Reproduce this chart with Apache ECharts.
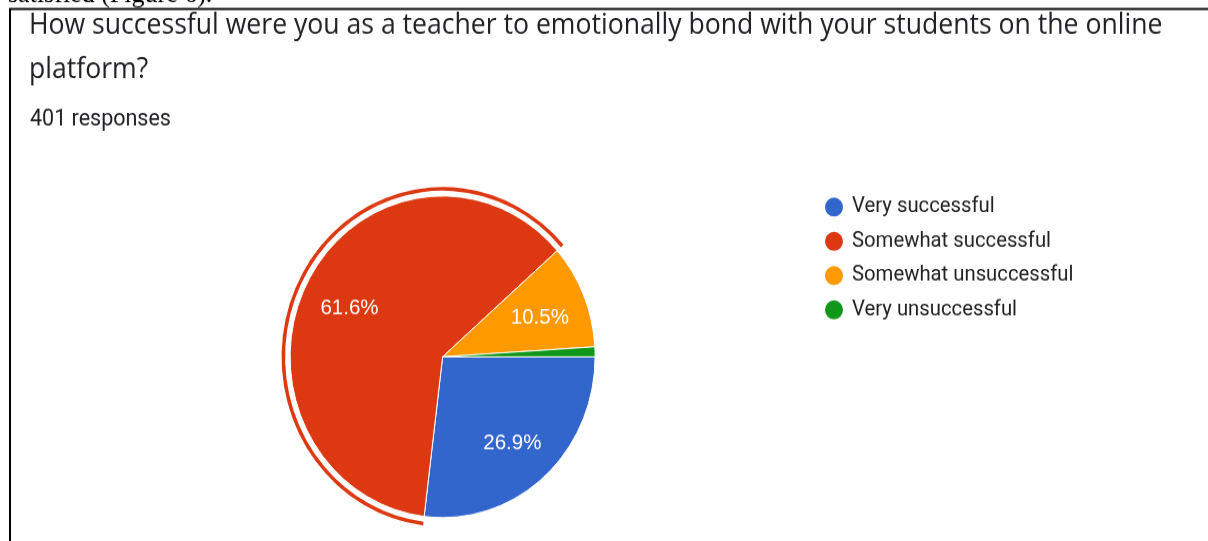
<!DOCTYPE html>
<html>
<head>
<meta charset="utf-8">
<script src="https://cdn.jsdelivr.net/npm/echarts@6/dist/echarts.min.js"></script>
<style>
  html { margin: 0; padding: 0; overflow: hidden; background: #ffffff; }
  body { margin: 0; padding: 0; width: 1208px; height: 541px; background: #ffffff; }
  #stage { width: 1208px; height: 513px; transform-origin: 0 0; }
</style>
</head>
<body>
<div id="stage"></div>
<script>
// Survey answers (401 responses)
const categories = ['Very successful', 'Somewhat successful', 'Somewhat unsuccessful', 'Very unsuccessful'];
const responses = [108, 247, 42, 4];
const palette = ['#3366cc', '#dc3912', '#ff9900', '#109618'];
const highlighted = 'Somewhat successful';
const questionLines = ['How successful were you as a teacher to emotionally bond with your students on the online', 'platform?'];
const responseNote = '401 responses';
const captionAbove = 'satisfied (Figure 6).';

// the canvas is drawn slightly shorter and stretched vertically
const SY = 541 / 513;
const stage = document.getElementById('stage');
stage.style.transform = 'scaleY(' + SY + ')';

const cx = 442.6, cy = 356.8 / SY;
const R = 152.5;

const chart = echarts.init(stage, null, { renderer: 'canvas' });

const baseData = categories.map((name, i) => ({
  name: name,
  value: responses[i],
  itemStyle: { color: palette[i] }
}));

chart.setOption({
  animation: false,
  title: [
    {
      text: questionLines.join('\n'),
      left: 29,
      top: 3.8,
      padding: 0,
      textStyle: { fontFamily: 'Open Sans', fontSize: 26.6, fontWeight: 'normal', color: '#202124', lineHeight: 41.7 }
    },
    {
      text: responseNote,
      left: 30,
      top: 101.5,
      padding: 0,
      textStyle: { fontFamily: 'Roboto', fontSize: 21.5, fontWeight: 'normal', color: '#202124', lineHeight: 24 }
    }
  ],
  legend: {
    orient: 'vertical',
    left: 823,
    top: 185.3,
    padding: 0,
    icon: 'circle',
    itemWidth: 20,
    itemHeight: 20,
    itemGap: 10.5,
    selectedMode: false,
    data: categories.map((name, i) => ({ name: name, itemStyle: { color: palette[i] } })),
    textStyle: { fontFamily: 'Roboto', fontSize: 20.3, color: '#222222', padding: [0, 0, 0, 3] }
  },
  graphic: [
    {
      type: 'polyline',
      silent: true,
      shape: { points: [[10, 520], [10, 9 / SY], [1208, 9 / SY]] },
      style: { stroke: '#000000', lineWidth: 2, fill: null }
    },
    {
      type: 'text',
      silent: true,
      x: 8,
      y: -4.5,
      style: {
        text: captionAbove,
        font: '26px "Liberation Serif", "Times New Roman", serif',
        fill: '#000000',
        textVerticalAlign: 'middle'
      }
    }
  ],
  series: [
    {
      name: 'slices',
      type: 'pie',
      center: [cx, cy],
      radius: [0, R],
      startAngle: 0,
      clockwise: true,
      silent: true,
      label: { show: false },
      labelLine: { show: false },
      itemStyle: { borderColor: '#ffffff', borderWidth: 1 },
      emphasis: { disabled: true },
      data: baseData
    },
    {
      name: 'highlight',
      type: 'pie',
      center: [cx, cy],
      radius: [157.5, 161],
      startAngle: 0,
      clockwise: true,
      silent: true,
      label: { show: false },
      labelLine: { show: false },
      emphasis: { disabled: true },
      data: categories.map((name, i) => ({
        name: name,
        value: responses[i],
        itemStyle: { color: name === highlighted ? palette[i] : 'rgba(0,0,0,0)', borderWidth: 0 }
      }))
    },
    {
      name: 'labels',
      type: 'pie',
      center: [cx, cy],
      radius: [52, R],
      startAngle: 0,
      clockwise: true,
      silent: true,
      emphasis: { disabled: true },
      itemStyle: { color: 'rgba(0,0,0,0)', borderWidth: 0 },
      label: {
        show: true,
        position: 'inside',
        offset: [0, 3],
        color: '#ffffff',
        fontFamily: '"Liberation Sans", Arial, sans-serif',
        fontSize: 20.5,
        formatter: function (p) {
          return p.percent >= 5 ? p.percent.toFixed(1) + '%' : '';
        }
      },
      labelLine: { show: false },
      data: categories.map((name, i) => ({ name: name, value: responses[i] }))
    }
  ]
});
</script>
</body>
</html>
